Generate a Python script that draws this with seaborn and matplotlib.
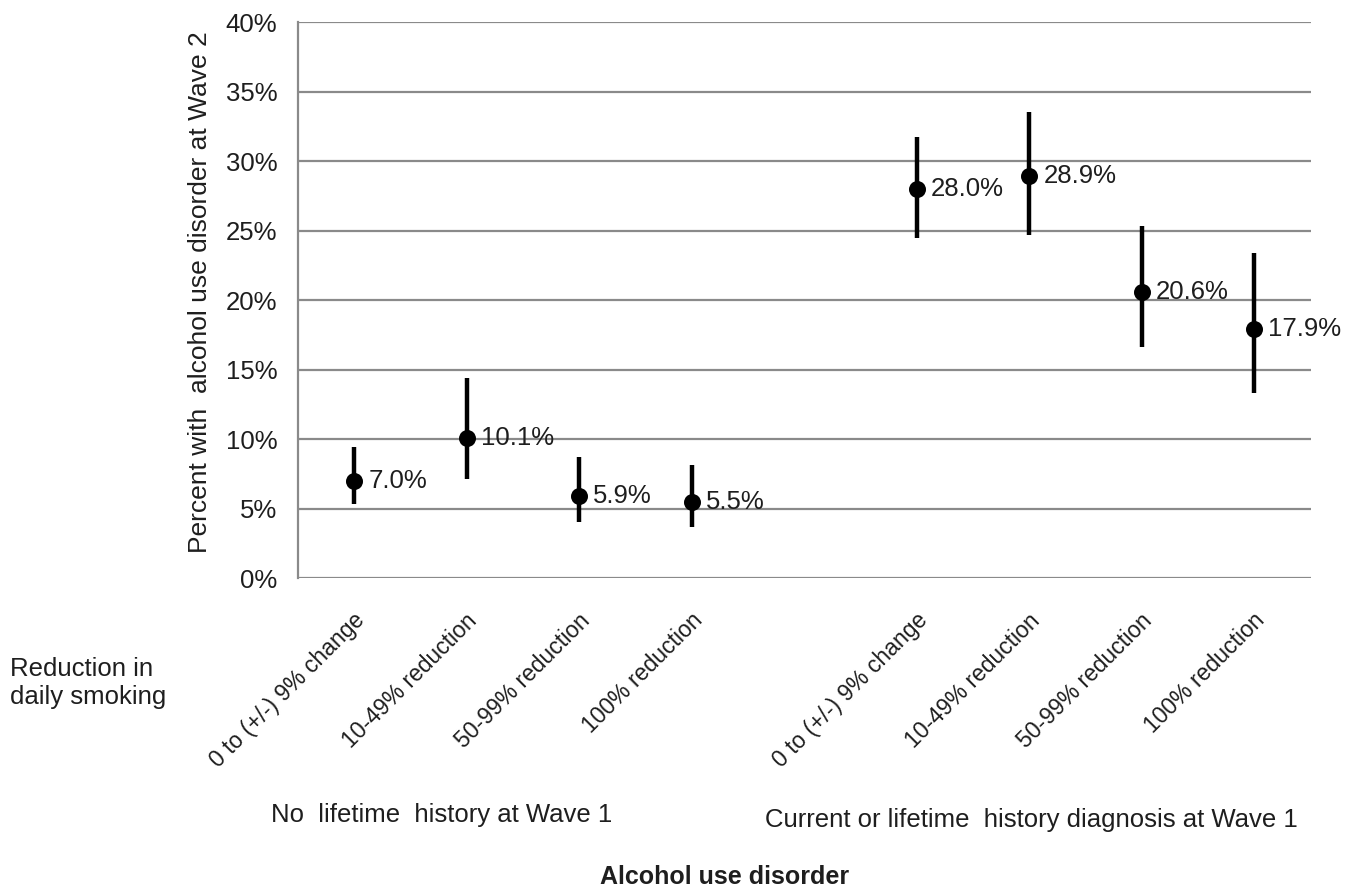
import matplotlib
matplotlib.use("Agg")
import matplotlib.pyplot as plt
import matplotlib.transforms as mtransforms
import seaborn as sns
import pandas as pd
from matplotlib.ticker import FuncFormatter, MultipleLocator

# ---- data ----
groups = ["No  lifetime  history at Wave 1"] * 4 + \
         ["Current or lifetime  history diagnosis at Wave 1"] * 4
smoking = ["0 to (+/-) 9% change", "10-49% reduction", "50-99% reduction", "100% reduction"] * 2
pct = [7.0, 10.1, 5.9, 5.5, 28.0, 28.9, 20.6, 17.9]
ci_low = [5.3, 7.1, 4.0, 3.7, 24.5, 24.7, 16.6, 13.3]
ci_high = [9.4, 14.4, 8.7, 8.1, 31.7, 33.5, 25.3, 23.4]
y_ticks = [0, 5, 10, 15, 20, 25, 30, 35, 40]

group_order = list(dict.fromkeys(groups))
# slot positions: categories in order, one empty slot between the two groups
pos = [i + group_order.index(g) for i, g in enumerate(groups)]
df = pd.DataFrame({"pos": pos, "pct": pct, "lo": ci_low, "hi": ci_high,
                   "smoking": smoking, "group": groups})

sns.set_theme(style="white")
plt.rcParams["font.family"] = ["Liberation Sans", "DejaVu Sans"]
TXT = "#1e1e1e"
GRID = "#8a8a8a"
FS = 18.5

fig = plt.figure(figsize=(13.61, 8.93), dpi=100)
ax = fig.add_axes([0.219, 0.3527, 0.744, 0.6226])

# gridlines
ax.set_ylim(0, 40)
ax.yaxis.set_major_locator(MultipleLocator(5))
ax.grid(axis="y", color=GRID, linewidth=1.6, zorder=0)
ax.set_axisbelow(True)

# error bars
ax.vlines(df["pos"], df["lo"], df["hi"], color="black", linewidth=3.2, zorder=3)
# points
sns.scatterplot(data=df, x="pos", y="pct", ax=ax, color="black", s=150,
                edgecolor="black", linewidth=0, zorder=4, legend=False)

for x, y in zip(df["pos"], df["pct"]):
    ax.annotate(f"{y:.1f}%", (x, y), xytext=(10, 0), textcoords="offset points",
                va="center", ha="left", fontsize=FS, color=TXT)

ax.set_xlim(-0.5, 8.5)
ax.set_xticks(df["pos"])
ax.set_xticklabels(df["smoking"], rotation=45, ha="right", va="center",
                   rotation_mode="anchor", fontsize=16.5, color=TXT)
ax.tick_params(axis="x", length=0, pad=24)
shift = mtransforms.ScaledTranslation(5 / 72, -4 / 72, fig.dpi_scale_trans)
for lab in ax.get_xticklabels():
    lab.set_transform(lab.get_transform() + shift)

ax.set_yticks(y_ticks)
ax.yaxis.set_major_formatter(FuncFormatter(lambda v, p: f"{v:.0f}%"))
ax.tick_params(axis="y", length=6, width=1.6, color=GRID, labelsize=FS,
               labelcolor=TXT, pad=9, direction="out")

for s in ["top", "right", "bottom"]:
    ax.spines[s].set_visible(False)
ax.spines["left"].set_color(GRID)
ax.spines["left"].set_linewidth(1.6)

ax.set_xlabel("")
ax.set_ylabel("Percent with  alcohol use disorder at Wave 2", fontsize=19, color=TXT)
ax.yaxis.set_label_coords(-0.085, 0.515)

fig.text(10 / 1361, 1 - 683 / 893, "Reduction in\ndaily smoking", ha="left", va="center",
         fontsize=FS, color=TXT, linespacing=1.2)
fig.text(442 / 1361, 1 - 815 / 893, group_order[0], ha="center", va="center",
         fontsize=FS, color=TXT)
fig.text(1031 / 1361, 1 - 820 / 893, group_order[1], ha="center", va="center",
         fontsize=FS, color=TXT)
fig.text(725 / 1361, 1 - 877 / 893, "Alcohol use disorder", ha="center", va="center",
         fontsize=18, fontweight="bold", color=TXT)

fig.savefig("out.png", dpi=100, facecolor="white")
